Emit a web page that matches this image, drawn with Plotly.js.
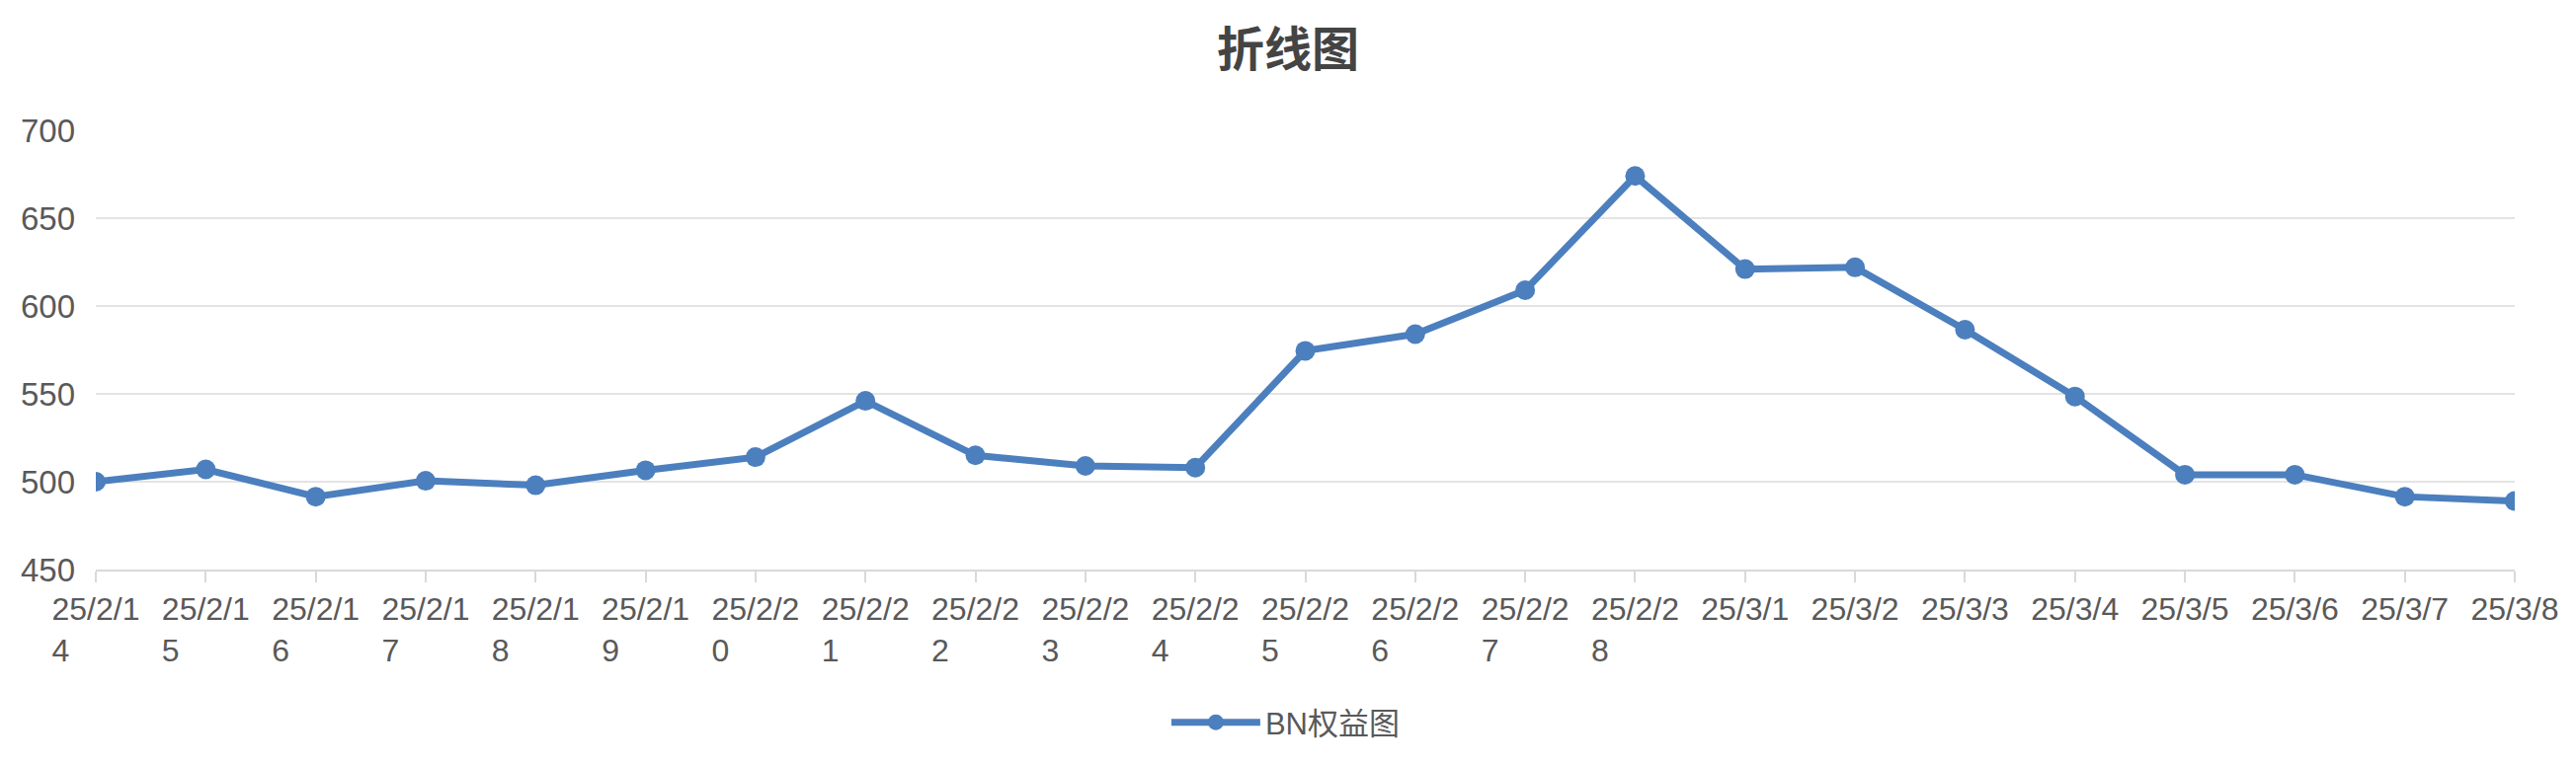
<!DOCTYPE html>
<html>
<head>
<meta charset="utf-8">
<script src="https://cdn.plot.ly/plotly-3.0.1.min.js"></script>
<style>
  html, body { margin: 0; padding: 0; background: #fff; }
  #chart { width: 2608px; height: 776px; }
</style>
</head>
<body>
<div id="chart"></div>
<script>
// dates (x categories)
const dates = ['25/2/14', '25/2/15', '25/2/16', '25/2/17', '25/2/18', '25/2/19', '25/2/20',
  '25/2/21', '25/2/22', '25/2/23', '25/2/24', '25/2/25', '25/2/26', '25/2/27', '25/2/28',
  '25/3/1', '25/3/2', '25/3/3', '25/3/4', '25/3/5', '25/3/6', '25/3/7', '25/3/8']

// BN权益 values
const equity = [500, 507, 491.5, 500.5, 498, 506.5, 514, 546, 515, 509, 508,
  574.5, 584, 609, 674, 621, 622, 586.5, 548.5, 504, 504, 491.5, 489]

const yTicks = [450, 500, 550, 600, 650, 700]

const NB = '\u00a0'

// long labels wrap after 6 chars, second line stays on the left
let tickLabel = function (d) {
  if (d.length <= 6) return d
  return d.slice(0, 6) + '<br>' + d.slice(6) + NB.repeat(8)
}

const lineColor = '#4c7fbe'
const gridColor = '#e4e4e4'
const textColor = '#595959'

let trace = {
  x: dates,
  y: equity,
  type: 'scatter',
  mode: 'lines+markers',
  name: 'BN权益图',
  line: { color: lineColor, width: 7 },
  marker: { color: lineColor, size: 20 }
}

let layout = {
  width: 2608,
  height: 776,
  margin: { l: 97, r: 62, t: 132, b: 199 },
  paper_bgcolor: '#fff',
  plot_bgcolor: '#fff',
  font: { family: 'Liberation Sans, Arial, Noto Sans CJK SC, sans-serif', size: 32, color: textColor },
  title: {
    text: '<b>折线图</b>',
    font: { family: 'Noto Sans CJK SC, sans-serif', size: 48, color: '#444' },
    x: 0.5,
    xanchor: 'center',
    y: 1 - 50 / 776,
    yanchor: 'middle',
    yref: 'container'
  },
  xaxis: {
    type: 'category',
    tickvals: dates,
    ticktext: dates.map(tickLabel),
    range: [0, dates.length - 1],
    showgrid: false,
    showline: true,
    linecolor: '#d9d9d9',
    linewidth: 2,
    ticks: 'outside',
    ticklen: 11,
    tickwidth: 2,
    tickcolor: '#d9d9d9',
    tickangle: 0,
    tickfont: { size: 32, color: textColor },
    zeroline: false
  },
  yaxis: {
    range: [450, 700],
    tickvals: yTicks,
    showgrid: true,
    gridcolor: gridColor,
    gridwidth: 2,
    showline: false,
    zeroline: false,
    ticks: '',
    ticklabelstandoff: 20,
    tickfont: { size: 33, color: textColor }
  },
  showlegend: true,
  legend: {
    orientation: 'h',
    x: 0.492,
    xanchor: 'center',
    y: (577 - 732) / 445,
    yanchor: 'middle',
    itemwidth: 90,
    font: { family: 'Liberation Sans, Noto Sans CJK SC, sans-serif', size: 31, color: textColor }
  }
}

Plotly.newPlot('chart', [trace], layout, { displayModeBar: false, responsive: false })
</script>
</body>
</html>
